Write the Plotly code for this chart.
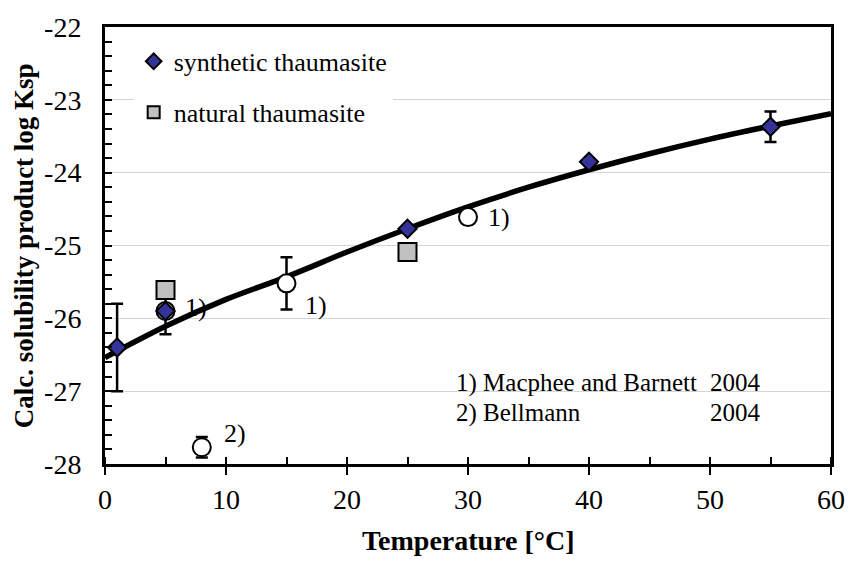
import plotly.graph_objects as go

# Synthetic thaumasite: temperature [°C], log Ksp, error
syn_t = [1, 5, 25, 40, 55]
syn_logk = [-26.40, -25.90, -24.77, -23.85, -23.37]
syn_err = [0.60, 0.0, 0.0, 0.0, 0.21]

# Natural thaumasite
nat_t = [5, 25]
nat_logk = [-25.61, -25.09]

# Literature values: 1) Macphee and Barnett 2004, 2) Bellmann 2004
lit_t = [5, 8, 15, 30]
lit_logk = [-25.90, -27.77, -25.52, -24.61]
lit_err = [0.32, 0.14, 0.36, 0.0]
lit_ref = ["1)", "2)", "1)", "1)"]

# Fitted temperature dependence of log Ksp
fit_t = [0, 5, 10, 15, 20, 25, 30, 35, 40, 45, 50, 55, 60]
fit_logk = [-26.54, -26.11, -25.74, -25.43, -25.09, -24.77, -24.47,
            -24.20, -23.96, -23.74, -23.54, -23.36, -23.19]

y_ticks = [-28, -27, -26, -25, -24, -23, -22]
y_ticklabels = ["-28", "-27", "-26", "-25", "-24", "-23", "-22"]

ref_lines = [("1) Macphee and Barnett", "2004"), ("2) Bellmann", "2004")]

FONT = "Liberation Serif"

fig = go.Figure()

fig.add_trace(go.Scatter(
    x=fit_t, y=fit_logk, mode="lines", line=dict(color="black", width=5.5, shape="spline"),
    showlegend=False, hoverinfo="skip"))

fig.add_trace(go.Scatter(
    x=lit_t, y=lit_logk, mode="markers", showlegend=False,
    marker=dict(symbol="circle", size=18, color="white", line=dict(color="black", width=2)),
    error_y=dict(type="data", array=lit_err, visible=True, color="black", thickness=2.5, width=6)))

fig.add_trace(go.Scatter(
    x=nat_t, y=nat_logk, mode="markers", name="natural thaumasite", legendrank=2,
    legendgroup="nat",
    marker=dict(symbol="square", size=18, color="#c0c0c0", line=dict(color="black", width=2))))

fig.add_trace(go.Scatter(
    x=syn_t, y=syn_logk, mode="markers", name="synthetic thaumasite", legendrank=1,
    legendgroup="syn",
    marker=dict(symbol="diamond", size=14, color="#333399", line=dict(color="black", width=2)),
    error_y=dict(type="data", array=syn_err, visible=True, color="black", thickness=2.5, width=6)))

# Reference markers next to literature points
label_shift = [(30, 4), (33, 14), (29, -22), (31, 0)]
for t, k, lab, (dx, dy) in zip(lit_t, lit_logk, lit_ref, label_shift):
    fig.add_annotation(x=t, y=k, text=lab, showarrow=False, xshift=dx, yshift=dy,
                       font=dict(family=FONT, size=26, color="black"))

# Reference list
for (ref, year), yp in zip(ref_lines, [0.1855, 0.1176]):
    fig.add_annotation(xref="paper", yref="paper", x=0.4803, y=yp, text=ref, showarrow=False,
                       xanchor="left", yanchor="middle", font=dict(family=FONT, size=25, color="black"))
    fig.add_annotation(xref="paper", yref="paper", x=0.8299, y=yp, text=year, showarrow=False,
                       xanchor="left", yanchor="middle", font=dict(family=FONT, size=25, color="black"))

# Axis titles
fig.add_annotation(xref="paper", yref="paper", x=0.5, y=-0.176, text="<b>Temperature [°C]</b>",
                   showarrow=False, xanchor="center", yanchor="middle",
                   font=dict(family=FONT, size=28, color="black"))
fig.add_annotation(xref="paper", yref="paper", x=-0.112, y=0.5,
                   text="<b>Calc. solubility product log Ksp</b>", textangle=-90,
                   showarrow=False, xanchor="center", yanchor="middle",
                   font=dict(family=FONT, size=27, color="black"))

fig.update_xaxes(
    range=[0, 60], tick0=0, dtick=10, ticks="outside", ticklen=8, tickwidth=2, tickcolor="black",
    showline=True, linewidth=3, linecolor="black", mirror=True, showgrid=False, zeroline=False,
    minor=dict(dtick=5, ticks="inside", ticklen=7, tickwidth=1.5, tickcolor="black", showgrid=False),
    tickfont=dict(family=FONT, size=28, color="black"), ticklabelstandoff=0)

fig.update_yaxes(
    range=[-28, -22], tickvals=y_ticks, ticktext=y_ticklabels, ticks="inside", ticklen=7,
    tickwidth=1.5, tickcolor="black", showline=True, linewidth=3, linecolor="black", mirror=True,
    showgrid=True, gridcolor="#d4d4d4", gridwidth=1, zeroline=False,
    minor=dict(dtick=0.2, ticks="inside", ticklen=7, tickwidth=1.5, tickcolor="black", showgrid=False),
    tickfont=dict(family=FONT, size=28, color="black"), ticklabelstandoff=15)

fig.update_layout(
    width=857, height=561, margin=dict(l=105, r=17, t=22, b=97),
    paper_bgcolor="white", plot_bgcolor="white",
    font=dict(family=FONT, color="black"),
    legend=dict(x=0.0395, y=0.975, xanchor="left", yanchor="top", bgcolor="white",
                borderwidth=0, font=dict(family=FONT, size=26, color="black"),
                tracegroupgap=14, itemsizing="constant"),
)

fig.write_html("out.html")
